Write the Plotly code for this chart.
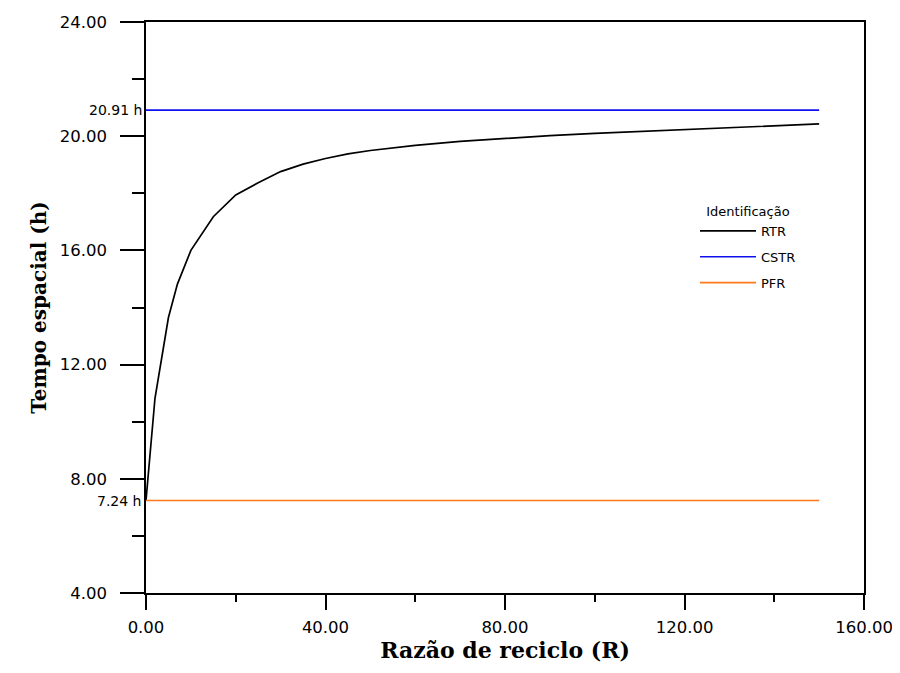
import plotly.graph_objects as go

# Data
R = [0, 2, 5, 7, 10, 15, 20, 25, 30, 35, 40, 45, 50, 60, 70, 80, 90, 100, 150]
tau_rtr = [7.24, 10.82, 13.65, 14.82, 16.0, 17.18, 17.94, 18.37, 18.76, 19.02,
           19.22, 19.38, 19.5, 19.68, 19.82, 19.93, 20.02, 20.1, 20.43]
R_ref = [0, 150]
tau_cstr = [20.91, 20.91]
tau_pfr = [7.24, 7.24]
ref_labels = ["20.91 h", "7.24 h"]
ref_values = [20.91, 7.24]

fig = go.Figure()
fig.add_trace(go.Scatter(x=R, y=tau_rtr, mode="lines", name="RTR",
                         line=dict(color="black", width=1.7), legendgroup="a"))
fig.add_trace(go.Scatter(x=R_ref, y=tau_cstr, mode="lines", name="CSTR",
                         line=dict(color="#1010ee", width=1.7), legendgroup="b"))
fig.add_trace(go.Scatter(x=R_ref, y=tau_pfr, mode="lines", name="PFR",
                         line=dict(color="#ff7a1a", width=1.7), legendgroup="c"))

for lab, v in zip(ref_labels, ref_values):
    fig.add_annotation(x=0, y=v, xref="x", yref="y", text=lab, showarrow=False,
                       xanchor="right", yanchor="middle", xshift=-2,
                       font=dict(family="DejaVu Sans", size=14, color="black"))

axis_common = dict(showline=True, linecolor="black", linewidth=1.5, mirror=True,
                   ticks="outside", tickcolor="black", tickwidth=1.5,
                   showgrid=False, zeroline=False, tickformat=".2f",
                   automargin=False,
                   tickfont=dict(family="DejaVu Sans", size=16.5, color="black"))

fig.update_xaxes(range=[0, 160], dtick=40, tick0=0, ticklen=15,
                 ticklabelstandoff=3,
                 minor=dict(dtick=20, ticks="outside", ticklen=7, tickcolor="black", tickwidth=1.5),
                 title=dict(text="<b>Razão de reciclo (R)</b>", standoff=6,
                            font=dict(family="DejaVu Serif", size=22, color="black")),
                 **axis_common)
fig.update_yaxes(range=[4, 24], dtick=4, tick0=0, ticklen=24,
                 ticklabelstandoff=10,
                 minor=dict(dtick=2, ticks="outside", ticklen=12, tickcolor="black", tickwidth=1.5),
                 title=dict(text="<b>Tempo espacial (h)</b>", standoff=8,
                            font=dict(family="DejaVu Serif", size=20, color="black")),
                 **axis_common)

fig.update_layout(
    width=892, height=665,
    margin=dict(l=138, r=36, t=14, b=80),
    plot_bgcolor="white", paper_bgcolor="white",
    showlegend=True,
    legend=dict(x=0.7646, y=0.69, xanchor="left", yanchor="top",
                bgcolor="rgba(0,0,0,0)", borderwidth=0,
                title=dict(text="Identificação", side="top center",
                           font=dict(family="DejaVu Sans", size=13, color="black")),
                font=dict(family="DejaVu Sans", size=13, color="black"),
                itemwidth=56, tracegroupgap=6),
)

fig.write_html("out.html")
